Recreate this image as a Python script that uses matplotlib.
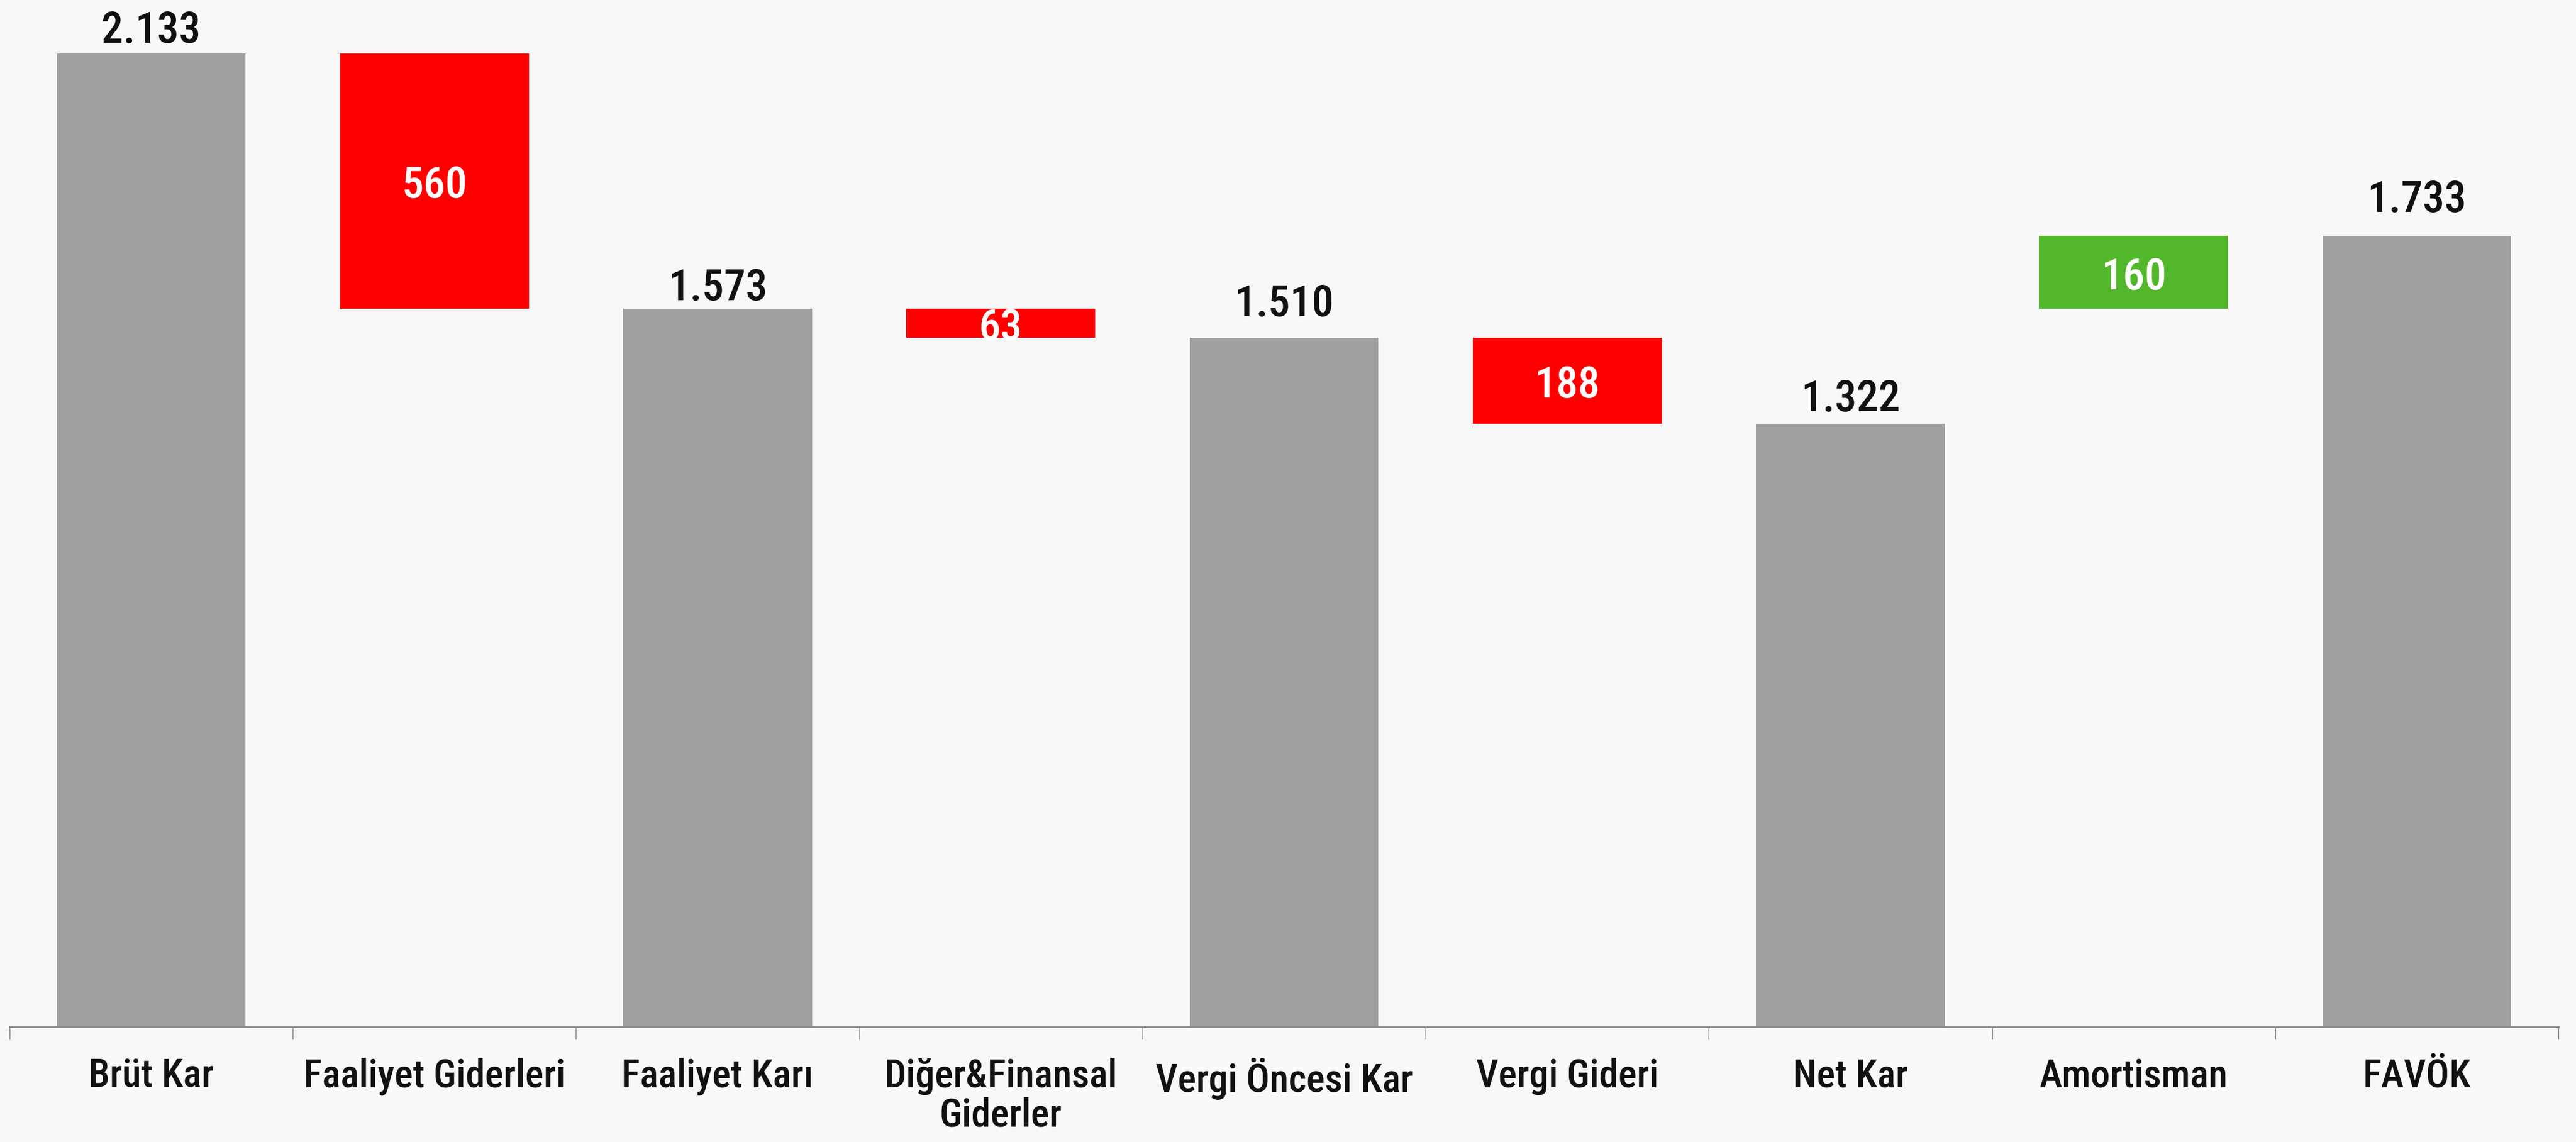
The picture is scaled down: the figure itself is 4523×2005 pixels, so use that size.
import matplotlib
matplotlib.use("Agg")
import matplotlib.pyplot as plt
import matplotlib.font_manager as fm
from matplotlib.ticker import FixedLocator

categories = ["Brüt Kar", "Faaliyet Giderleri", "Faaliyet Karı", "Diğer&Finansal\nGiderler",
              "Vergi Öncesi Kar", "Vergi Gideri", "Net Kar", "Amortisman", "FAVÖK"]
values = [2133, -560, 1573, -63, 1510, -188, 1322, 160, 1733]
is_total = [True, False, True, False, True, False, True, False, True]
labels = ["2.133", "560", "1.573", "63", "1.510", "188", "1.322", "160", "1.733"]
# gap (points) between a total bar and its value label
label_gap = [14, 0, 12, 0, 28, 0, 16, 0, 31]

GREY = "#a0a0a0"
RED = "#ff0000"
GREEN = "#52b72a"
BG = "#f8f8f8"


def narrow_font():
    # look for an installed narrow/condensed sans face, fall back to Liberation Sans
    def is_narrow(f):
        n = f.name.lower()
        st = f.stretch
        narrow_stretch = st in ("condensed", "semi-condensed", "extra-condensed", "ultra-condensed") \
            or (isinstance(st, int) and st < 100)
        return "narrow" in n or "condensed" in n or narrow_stretch
    cands = [f for f in fm.fontManager.ttflist
             if is_narrow(f) and f.style == "normal" and "mono" not in f.name.lower()]
    order = ["liberation sans narrow", "roboto condensed", "dejavu sans", "open sans", "noto sans"]

    def weight(f):
        w = f.weight
        if isinstance(w, int):
            return w
        return {"normal": 400, "regular": 400, "book": 400, "medium": 500,
                "semibold": 600, "bold": 700, "light": 300}.get(str(w).lower(), 400)

    def rank(f):
        n = f.name.lower()
        r = next((k for k, o in enumerate(order) if n.startswith(o)), len(order))
        return (r, abs(weight(f) - 560))
    if cands:
        best = sorted(cands, key=rank)[0]
        return fm.FontProperties(fname=best.fname), True
    return fm.FontProperties(family=["Liberation Sans", "DejaVu Sans"], weight="bold"), False


base_font, found = narrow_font()
scale = 1.0 if found else 0.85


def font(size):
    fp = base_font.copy()
    fp.set_size(size * scale)
    return fp


fig = plt.figure(figsize=(45.23, 20.06), dpi=100, facecolor=BG)
ax = fig.add_axes([17 / 4523, 0.1007, (4492 - 17) / 4523, 0.8993])
ax.set_facecolor(BG)

# waterfall: decreases hang from the previous total, increases sit under the next total
bottoms, heights, colors = [], [], []
for i, v in enumerate(values):
    if is_total[i]:
        bottoms.append(0)
        heights.append(v)
        colors.append(GREY)
    elif v < 0:
        bottoms.append(values[i - 1] + v)
        heights.append(-v)
        colors.append(RED)
    else:
        bottoms.append(values[i + 1] - v)
        heights.append(v)
        colors.append(GREEN)

x = list(range(len(categories)))
ax.bar(x, heights, bottom=bottoms, width=0.667, color=colors, linewidth=0, zorder=2)

for i in x:
    if is_total[i]:
        ax.annotate(labels[i], (i, bottoms[i] + heights[i]), xytext=(0, label_gap[i]),
                    textcoords="offset points", ha="center", va="baseline",
                    fontproperties=font(55), color="#111111")
    else:
        ax.text(i, bottoms[i] + heights[i] / 2, labels[i], ha="center",
                va="center_baseline", fontproperties=font(55), color="white", zorder=3)

ax.set_xlim(-0.5, len(categories) - 0.5)
ax.set_ylim(0, 2251)
ax.set_yticks([])
ax.set_xticks(x)
ax.set_xticklabels(categories, fontproperties=font(49), linespacing=1.05)
ax.tick_params(axis="x", which="major", length=0, pad=38, colors="#111111")
ax.xaxis.set_minor_locator(FixedLocator([i - 0.5 for i in range(len(categories) + 1)]))
ax.tick_params(axis="x", which="minor", length=16, width=1.0, color="#7a7a7a")

for side in ["top", "left", "right"]:
    ax.spines[side].set_visible(False)
ax.spines["bottom"].set_color("#888888")
ax.spines["bottom"].set_linewidth(2.2)

fig.savefig("out.png", dpi=100, facecolor=BG)
